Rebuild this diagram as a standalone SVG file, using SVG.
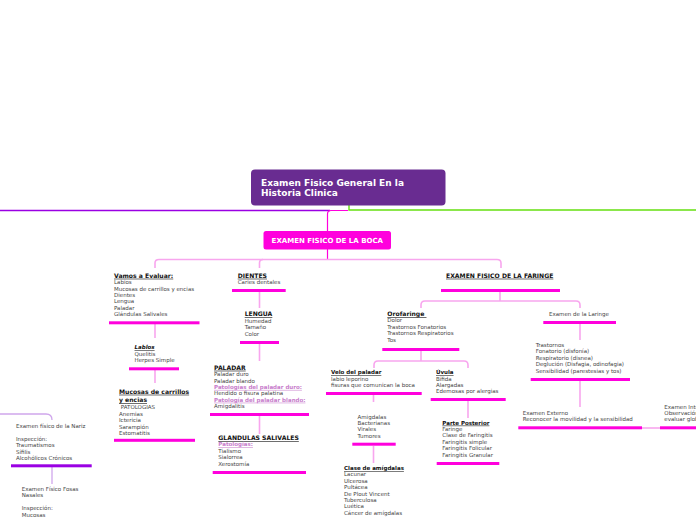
<svg xmlns="http://www.w3.org/2000/svg" width="696" height="520" viewBox="0 0 696 520">
<style>
text{font-family:"DejaVu Sans",Verdana,sans-serif;}
.t{font-size:5.5px;fill:#444;}
.h{font-size:6.1px;font-weight:bold;fill:#111;text-decoration:underline;}
.s{font-size:5.5px;font-weight:bold;fill:#111;text-decoration:underline;}
.p{font-size:5.5px;font-weight:bold;fill:#c77ccb;text-decoration:underline;}
.bar{fill:#ff00dd;}
.c{stroke:#f8a6ee;stroke-width:1.6;fill:none;}
.cp{stroke:#cfa6ec;stroke-width:1.3;fill:none;}
</style>
<rect width="696" height="520" fill="#ffffff"/>
<g id="connectors">
<path d="M0,210.5 H330" stroke="#9a00e3" stroke-width="1.4" fill="none"/>
<path d="M349,205 V210 H696" stroke="#66e010" stroke-width="1.4" fill="none"/>
<path d="M348,210.5 H331 Q327.5,210.5 327.5,214 V231" stroke="#ff00dd" stroke-width="1.2" fill="none"/>
<path d="M327.5,249 V259.5" stroke="#ff00dd" stroke-width="1.2" fill="none"/>
<path class="c" d="M155,268 V263 Q155,259.5 159,259.5 H497 Q501,259.5 501,263 V268"/>
<path class="c" d="M259.5,268 V263 Q259.5,259.5 263,259.5"/>
<path class="c" d="M155,324 V338"/>
<path class="c" d="M155,370 V383"/>
<path class="c" d="M259.5,292 V308"/>
<path class="c" d="M259.5,344 V361"/>
<path class="c" d="M259.5,416 V434"/>
<path class="c" d="M500,292 V301"/>
<path class="c" d="M421,308 V305 Q421,301 425,301 H576 Q580,301 580,305 V308"/>
<path class="c" d="M421,351 V361"/>
<path class="c" d="M374,368 V365 Q374,361 378,361 H464 Q468,361 468,365 V368"/>
<path class="c" d="M373.5,395 V402"/>
<path class="c" d="M373.5,446 V463"/>
<path class="c" d="M468,401 V418"/>
<path class="c" d="M580,324 V340"/>
<path class="c" d="M580,381 V407"/>
<path class="c" d="M642,428 H660"/>
<path class="cp" d="M0,414 H46 Q52,414 52,420"/>
<path class="cp" d="M52,467 V484"/>
</g>
<g id="title">
<rect x="251" y="169.5" width="194.5" height="36" rx="4" fill="#692c91"/>
<text x="261" y="186.3" font-size="9px" font-weight="bold" fill="#fff">Examen Fisico General En la</text>
<text x="261" y="196.3" font-size="9px" font-weight="bold" fill="#fff">Historia Clinica</text>
</g>
<g id="boca">
<rect x="263.5" y="231" width="127.5" height="18.5" rx="2.5" fill="#ff00dd"/>
<text x="327.3" y="242.7" font-size="7px" font-weight="bold" fill="#fff" text-anchor="middle">EXAMEN FISICO DE LA BOCA</text>
</g>
<g id="vamos">
<text class="h" x="114" y="277.7">Vamos a Evaluar:</text>
<text class="t" x="114" y="284.2">Labios</text>
<text class="t" x="114" y="290.6">Mucosas de carrillos y encias</text>
<text class="t" x="114" y="297">Dientes</text>
<text class="t" x="114" y="303.4">Lengua</text>
<text class="t" x="114" y="309.8">Paladar</text>
<text class="t" x="114" y="316.2">Glándulas Salivales</text>
<rect class="bar" x="109" y="321.3" width="90.5" height="3"/>
</g>
<g id="lablos">
<text class="s" x="134.5" y="349" font-style="italic">Lablos</text>
<text class="t" x="134.5" y="355.6">Quelitis</text>
<text class="t" x="134.5" y="362">Herpes Simple</text>
<rect class="bar" x="129" y="367.3" width="50" height="3"/>
</g>
<g id="mucosas">
<text class="h" x="119" y="393.7" font-size="6.5px">Mucosas de carrillos</text>
<text class="h" x="119" y="402" font-size="6.5px">y encias</text>
<text class="t" x="119" y="409" xml:space="preserve"> PATOLOGIAS</text>
<text class="t" x="119" y="415.5">Anemias</text>
<text class="t" x="119" y="422">Ictericia</text>
<text class="t" x="119" y="428.5">Sarampión</text>
<text class="t" x="119" y="435">Estomatitis</text>
<rect class="bar" x="114" y="438.8" width="81" height="3"/>
</g>
<g id="dientes">
<text class="h" x="237.7" y="277.7">DIENTES</text>
<text class="t" x="237.7" y="284.3">Caries dentales</text>
<rect class="bar" x="232" y="289" width="53.7" height="3"/>
</g>
<g id="lengua">
<text class="h" x="244.7" y="316.3">LENGUA</text>
<text class="t" x="244.7" y="322.7">Humedad</text>
<text class="t" x="244.7" y="329.1">Tamaño</text>
<text class="t" x="244.7" y="335.5">Color</text>
<rect class="bar" x="240" y="341" width="39" height="3"/>
</g>
<g id="paladar">
<text class="h" x="214" y="369.7">PALADAR</text>
<text class="t" x="214" y="376.1">Paladar duro</text>
<text class="t" x="214" y="382.5">Paladar blando</text>
<text class="p" x="214" y="388.9">Patologías del paladar duro:</text>
<text class="t" x="214" y="395.3">Hendido o fisura palatina</text>
<text class="p" x="214" y="401.7">Patología del paladar blando:</text>
<text class="t" x="214" y="408.1">Amigdalitis</text>
<rect class="bar" x="210" y="413" width="99" height="3"/>
</g>
<g id="glandulas">
<text class="h" x="218.3" y="440">GLANDULAS SALIVALES</text>
<text class="p" x="218.3" y="446.4">Patologías:</text>
<text class="t" x="218.3" y="452.8">Tialismo</text>
<text class="t" x="218.3" y="459.2">Sialorrea</text>
<text class="t" x="218.3" y="465.6">Xerostomía</text>
<rect class="bar" x="212.7" y="471" width="93.3" height="3"/>
</g>
<g id="faringe">
<text class="h" x="446" y="277.7">EXAMEN FISICO DE LA FARINGE</text>
<rect class="bar" x="441" y="289" width="119" height="3"/>
</g>
<g id="orofaringe">
<text class="h" x="387.3" y="316" xml:space="preserve">Orofaringe </text>
<text class="t" x="387.3" y="322.4">Dolor</text>
<text class="t" x="387.3" y="328.8">Trastornos Fonatorios</text>
<text class="t" x="387.3" y="335.2">Trastornos Respiratorios</text>
<text class="t" x="387.3" y="341.6">Tos</text>
<rect class="bar" x="382.3" y="348" width="77" height="3"/>
</g>
<g id="velo">
<text class="s" x="331" y="374">Velo del paladar</text>
<text class="t" x="331" y="380.5">labio leporino</text>
<text class="t" x="331" y="387">fisuras que comunican la boca</text>
<rect class="bar" x="326" y="392" width="95.7" height="3"/>
</g>
<g id="amigdalas">
<text class="t" x="357.5" y="418.6">Amigdalas</text>
<text class="t" x="357.5" y="425">Bacterianas</text>
<text class="t" x="357.5" y="431.4">Virales</text>
<text class="t" x="357.5" y="437.8">Tumores</text>
<rect class="bar" x="352.3" y="442.7" width="43.4" height="3"/>
</g>
<g id="clase-amigdalas">
<text class="s" x="344" y="470">Clase de amígdalas</text>
<text class="t" x="344" y="476.4">Lacunar</text>
<text class="t" x="344" y="482.8">Ulcerosa</text>
<text class="t" x="344" y="489.2">Pultácea</text>
<text class="t" x="344" y="495.6">De Plout Vincent</text>
<text class="t" x="344" y="502">Tuberculosa</text>
<text class="t" x="344" y="508.4">Luética</text>
<text class="t" x="344" y="514.8">Cáncer de amígdalas</text>
</g>
<g id="uvula">
<text class="s" x="436" y="374">Úvula</text>
<text class="t" x="436" y="380.5">Bífida</text>
<text class="t" x="436" y="387">Alargadas</text>
<text class="t" x="436" y="393.4">Edemosas por alergias</text>
<rect class="bar" x="430.7" y="398" width="75" height="3"/>
</g>
<g id="parte-posterior">
<text class="s" x="442.3" y="424.6">Parte Posterior</text>
<text class="t" x="442.3" y="431">Faringe</text>
<text class="t" x="442.3" y="437.4">Clase de Faringitis</text>
<text class="t" x="442.3" y="443.8">Faringitis simple</text>
<text class="t" x="442.3" y="450.2">Faringitis Folicular</text>
<text class="t" x="442.3" y="456.6">Faringitis Granular</text>
<rect class="bar" x="436.7" y="462" width="62.6" height="3"/>
</g>
<g id="laringe">
<text class="t" x="549" y="316.2">Examen de la Laringe</text>
<rect class="bar" x="543.3" y="321" width="72.7" height="3"/>
</g>
<g id="trastornos">
<text class="t" x="535.7" y="347">Trastornos</text>
<text class="t" x="535.7" y="353.3">Fonatorio (disfonía)</text>
<text class="t" x="535.7" y="359.7">Respiratorio (disnea)</text>
<text class="t" x="535.7" y="366.1">Deglución (Disfagia, odinofagia)</text>
<text class="t" x="535.7" y="372.5">Sensibilidad (parestesias y tos)</text>
<rect class="bar" x="530.7" y="378" width="99.3" height="3"/>
</g>
<g id="externo">
<text class="t" x="522.7" y="415">Examen Externo</text>
<text class="t" x="522.7" y="421.3">Reconocer la movilidad y la sensibilidad</text>
<rect class="bar" x="518.3" y="426.3" width="123.7" height="3"/>
</g>
<g id="interno">
<text class="t" x="664.3" y="408.5">Examen Interno</text>
<text class="t" x="664.3" y="414.8">Observación</text>
<text class="t" x="664.3" y="421.2">evaluar global</text>
<rect class="bar" x="660" y="426.3" width="40" height="3"/>
</g>
<g id="nariz">
<text class="t" x="16" y="427.5">Examen físico de la Nariz</text>
<text class="t" x="16" y="440.8">Inspección:</text>
<text class="t" x="16" y="447.2">Traumatismos</text>
<text class="t" x="16" y="453.6">Sífilis</text>
<text class="t" x="16" y="460">Alcohólicos Crónicos</text>
<rect x="11" y="464.3" width="80.7" height="3" fill="#9a00e3"/>
</g>
<g id="fosas">
<text class="t" x="21.7" y="490.8">Examen Físico Fosas</text>
<text class="t" x="21.7" y="497.2">Nasales</text>
<text class="t" x="21.7" y="510.4">Inspección:</text>
<text class="t" x="21.7" y="516.8">Mucosas</text>
</g>
</svg>
